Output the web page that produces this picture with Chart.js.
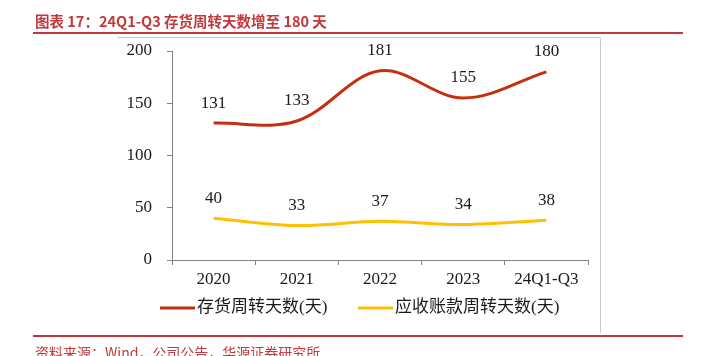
<!DOCTYPE html>
<html>
<head>
<meta charset="utf-8">
<script src="https://cdn.jsdelivr.net/npm/chart.js@4/dist/chart.umd.min.js"></script>
<style>
html,body{margin:0;padding:0;background:#fff;}
#wrap{width:711px;height:356px;position:relative;}
</style>
</head>
<body>
<div id="wrap"><canvas id="c" width="711" height="356"></canvas></div>
<script>
const titleText = '图表 17：24Q1-Q3 存货周转天数增至 180 天';
const sourceText = '资料来源：Wind，公司公告，华源证券研究所';
const categories = ['2020', '2021', '2022', '2023', '24Q1-Q3'];
const inventoryDays = [131, 133, 181, 155, 180];
const receivableDays = [40, 33, 37, 34, 38];
const seriesNames = ['存货周转天数(天)', '应收账款周转天数(天)'];
const yTicks = [0, 50, 100, 150, 200];

const RED = '#C4300F';
const YELLOW = '#FFC000';
const FRAME_RED = '#C0393C';
const SERIF = '"Liberation Serif", "Noto Sans CJK SC", serif';

const decor = {
  id: 'decor',
  beforeDraw(chart) {
    const ctx = chart.ctx;
    ctx.save();
    // gray frame
    ctx.strokeStyle = '#C8C8C8';
    ctx.lineWidth = 1;
    ctx.beginPath();
    ctx.moveTo(117, 37.5); ctx.lineTo(600.5, 37.5); ctx.lineTo(600.5, 333);
    ctx.stroke();
    // red rules
    ctx.strokeStyle = FRAME_RED;
    ctx.lineWidth = 2;
    ctx.beginPath(); ctx.moveTo(33, 33); ctx.lineTo(683, 33); ctx.stroke();
    ctx.beginPath(); ctx.moveTo(33, 336); ctx.lineTo(683, 336); ctx.stroke();
    // title
    ctx.fillStyle = FRAME_RED;
    ctx.font = 'bold 14.5px "Noto Sans CJK SC", sans-serif';
    ctx.textBaseline = 'middle';
    ctx.textAlign = 'left';
    ctx.fillText(titleText, 35, 21);
    // source
    ctx.font = '14px "Noto Sans CJK SC", sans-serif';
    ctx.fillText(sourceText, 35, 353);
    ctx.restore();
  },
  afterDatasetsDraw(chart) {
    const ctx = chart.ctx;
    ctx.save();
    ctx.font = '17px ' + SERIF;
    ctx.fillStyle = '#1a1a1a';
    ctx.textAlign = 'center';
    ctx.textBaseline = 'middle';
    chart.data.datasets.forEach((ds, i) => {
      const meta = chart.getDatasetMeta(i);
      meta.data.forEach((pt, j) => {
        ctx.fillText(String(ds.data[j]), pt.x, pt.y - 20);
      });
    });
    // legend
    const items = [
      {x0: 160, color: RED, text: chart.data.datasets[0].label},
      {x0: 358, color: YELLOW, text: chart.data.datasets[1].label}
    ];
    ctx.font = '17px ' + SERIF;
    ctx.textAlign = 'left';
    ctx.fillStyle = '#1a1a1a';
    items.forEach(it => {
      ctx.strokeStyle = it.color;
      ctx.lineWidth = 3;
      ctx.beginPath(); ctx.moveTo(it.x0, 308); ctx.lineTo(it.x0 + 35, 308); ctx.stroke();
      ctx.fillText(it.text, it.x0 + 37, 308);
    });
    ctx.restore();
  }
};

new Chart(document.getElementById('c'), {
  type: 'line',
  data: {
    labels: categories,
    datasets: [
      {label: seriesNames[0], data: inventoryDays, borderColor: RED, backgroundColor: RED,
       borderWidth: 3, pointRadius: 0, tension: 0.35, fill: false},
      {label: seriesNames[1], data: receivableDays, borderColor: YELLOW, backgroundColor: YELLOW,
       borderWidth: 3, pointRadius: 0, tension: 0.35, fill: false}
    ]
  },
  options: {
    responsive: false,
    animation: false,
    devicePixelRatio: 1,
    layout: {padding: {left: 0, right: 123, top: 51, bottom: 0}},
    plugins: {legend: {display: false}, tooltip: {enabled: false}, title: {display: false}},
    scales: {
      x: {
        type: 'category',
        offset: true,
        grid: {offset: true, drawOnChartArea: false, drawTicks: true, tickLength: 5, color: '#808080'},
        border: {display: true, color: '#808080', width: 1},
        ticks: {font: {family: SERIF, size: 17}, color: '#1a1a1a', padding: 4, maxRotation: 0, autoSkip: false},
        afterFit(scale) { scale.height = 96; }
      },
      y: {
        min: 0, max: 200,
        afterBuildTicks(scale) { scale.ticks = yTicks.map(v => ({value: v})); },
        grid: {drawOnChartArea: false, drawTicks: true, tickLength: 5, color: '#808080'},
        border: {display: true, color: '#808080', width: 1},
        ticks: {font: {family: SERIF, size: 17}, color: '#1a1a1a', padding: 15},
        afterFit(scale) { scale.width = 172; }
      }
    }
  },
  plugins: [decor]
});
</script>
</body>
</html>
